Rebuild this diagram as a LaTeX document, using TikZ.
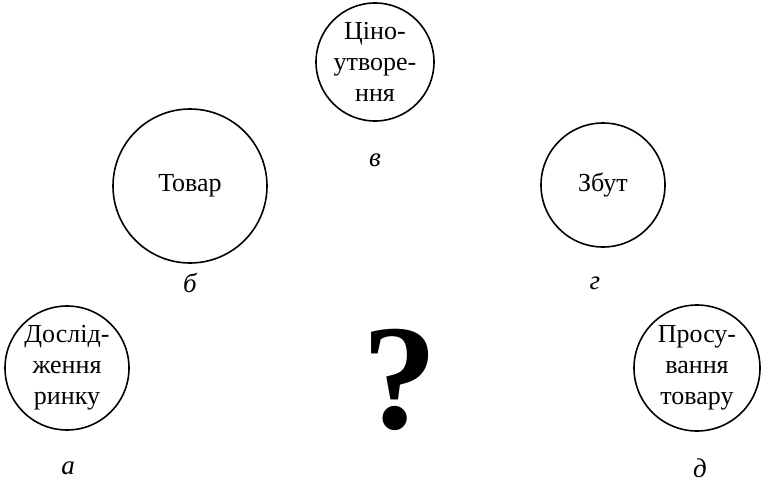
\documentclass[tikz,border=0pt]{standalone}
\usepackage{fontspec}
\setmainfont{Liberation Serif}
\begin{document}
\begin{tikzpicture}[x=1pt,y=-1pt,
  circ/.style={draw, line width=1.6pt, circle, align=center, inner sep=0pt,
    font=\fontsize{26}{31}\selectfont},
  lab/.style={font=\fontsize{27}{31}\selectfont\itshape}]
\useasboundingbox (0,0) rectangle (784,487);
\node[circ, minimum size=118pt] (v) at (375,62) {Ціно-\\утворе-\\ння};
\node[circ, minimum size=154pt] (b) at (190,186) {Товар};
\node[circ, minimum size=124pt] (g) at (603,185) {Збут};
\node[circ, minimum size=124pt] (a) at (67,368) {Дослід-\\ження\\ринку};
\node[circ, minimum size=126pt] (d) at (697,368) {Просу-\\вання\\товару};
\node[lab] (lv) at (375,160) {в};
\node[lab] (lb) at (190,283) {б};
\node[lab] (lg) at (595,283) {г};
\node[lab] (la) at (68,468) {а};
\node[lab] (ld) at (700,468) {д};
\node[font=\fontsize{150}{155}\selectfont\bfseries] (q) at (400,380) {?};
\end{tikzpicture}
\end{document}
